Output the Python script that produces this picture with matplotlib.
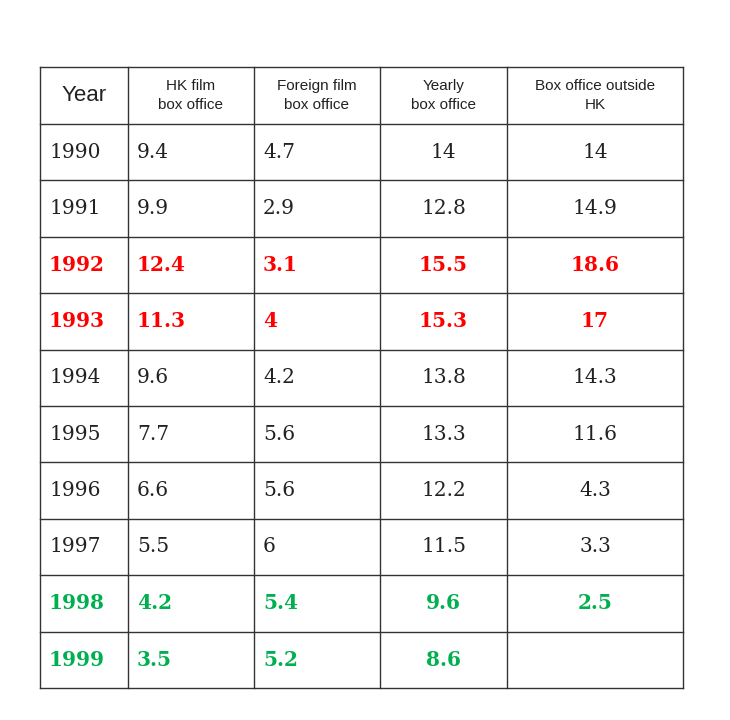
import matplotlib
matplotlib.use("Agg")
import matplotlib.pyplot as plt

headers = ["Year", "HK film\nbox office", "Foreign film\nbox office", "Yearly\nbox office", "Box office outside\nHK"]
years = ["1990", "1991", "1992", "1993", "1994", "1995", "1996", "1997", "1998", "1999"]
hk_film = ["9.4", "9.9", "12.4", "11.3", "9.6", "7.7", "6.6", "5.5", "4.2", "3.5"]
foreign_film = ["4.7", "2.9", "3.1", "4", "4.2", "5.6", "5.6", "6", "5.4", "5.2"]
yearly = ["14", "12.8", "15.5", "15.3", "13.8", "13.3", "12.2", "11.5", "9.6", "8.6"]
outside_hk = ["14", "14.9", "18.6", "17", "14.3", "11.6", "4.3", "3.3", "2.5", ""]
row_colors = ["#222222", "#222222", "#ff0000", "#ff0000", "#222222", "#222222",
              "#222222", "#222222", "#00b050", "#00b050"]

col_x = [40, 128, 254, 380, 507, 683]
top, head_bot, bottom = 67, 124, 688
row_h = (bottom - head_bot) / len(years)

fig = plt.figure(figsize=(7.3, 7.2), dpi=100)
ax = fig.add_axes([0, 0, 1, 1])
ax.set_xlim(0, 730)
ax.set_ylim(720, 0)
ax.axis("off")

for x in col_x:
    ax.plot([x, x], [top, bottom], color="#333333", lw=1)
ys = [top, head_bot] + [head_bot + row_h * (i + 1) for i in range(len(years))]
for y in ys:
    ax.plot([col_x[0], col_x[-1]], [y, y], color="#333333", lw=1)

# header
for j, h in enumerate(headers):
    cx = (col_x[j] + col_x[j + 1]) / 2
    ax.text(cx, (top + head_bot) / 2, h, ha="center", va="center",
            fontsize=16 if j == 0 else 11, family="Liberation Sans", color="#222222",
            linespacing=1.4)

cols = [years, hk_film, foreign_film, yearly, outside_hk]
for i in range(len(years)):
    yc = head_bot + row_h * (i + 0.5)
    c = row_colors[i]
    bold = c != "#222222"
    for j, col in enumerate(cols):
        if j < 3:
            x, ha = col_x[j] + 9, "left"
        else:
            x, ha = (col_x[j] + col_x[j + 1]) / 2, "center"
        ax.text(x, yc, col[i], ha=ha, va="center", fontsize=14.5,
                family="DejaVu Serif", color=c,
                fontweight="bold" if bold else "normal")

fig.savefig("out.png", dpi=100, facecolor="white")
